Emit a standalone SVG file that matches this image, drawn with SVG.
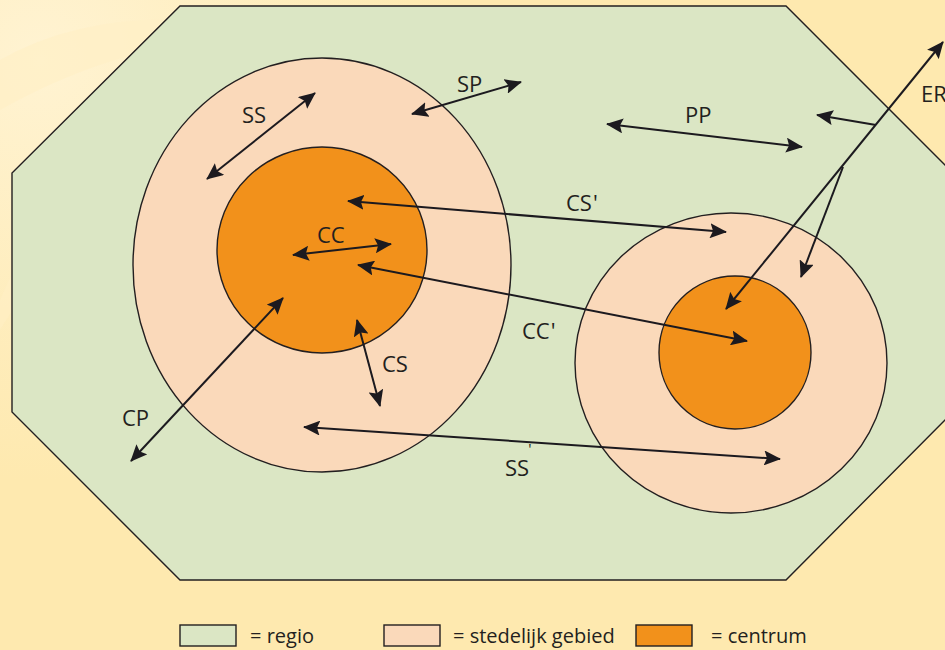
<svg xmlns="http://www.w3.org/2000/svg" width="945" height="650" viewBox="0 0 945 650">
<style>
.lbl{font-family:"Open Sans","Noto Sans","Liberation Sans",sans-serif;font-size:22px;fill:#231f20}
.leg{font-family:"Open Sans","Noto Sans","Liberation Sans",sans-serif;font-size:20px;fill:#231f20}
.edge{stroke:#1c1a1f;stroke-width:2;fill:none}
.shape{stroke:#231f20;stroke-width:1.4}
.regio{fill:#dbe6c4}
.sted{fill:#fad9ba}
.cent{fill:#f2911b}
</style>
<defs>
<marker id="ah" markerUnits="userSpaceOnUse" markerWidth="17" markerHeight="15" refX="16" refY="7.5" orient="auto-start-reverse">
<path d="M0,0 L17,7.5 L0,15 L3,7.5 z" fill="#1c1a1f"/>
</marker>
<radialGradient id="bg" cx="0" cy="0" r="1" gradientUnits="userSpaceOnUse" gradientTransform="translate(40 60) scale(420 420)">
<stop offset="0" stop-color="#fff3d2"/>
<stop offset="1" stop-color="#fee9af"/>
</radialGradient>
</defs>
<rect width="945" height="650" fill="#fee9af"/>
<rect width="945" height="650" fill="url(#bg)"/>
<path d="M0,60 Q120,-10 330,40 Q160,20 0,110 z" fill="#fff0c6" opacity="0.7"/>
<path d="M0,300 Q40,200 140,170 Q60,230 0,330 z" fill="#fff0c6" opacity="0.5"/>

<g id="regio">
<polygon class="shape regio" points="180,6 786,6 953,173 953,412 786,580 180,580 12,412 12,173"/>
</g>
<g id="stad1">
<ellipse class="shape sted" cx="322" cy="265" rx="189" ry="207"/>
</g>
<g id="centrum1">
<ellipse class="shape cent" cx="322" cy="250" rx="105" ry="103"/>
</g>
<g id="stad2">
<ellipse class="shape sted" cx="731" cy="363" rx="156" ry="150"/>
</g>
<g id="centrum2">
<ellipse class="shape cent" cx="735" cy="352.5" rx="76" ry="76.5"/>
</g>

<g id="connectors">
<line class="edge" x1="207" y1="179" x2="315" y2="93" marker-start="url(#ah)" marker-end="url(#ah)"/>
<line class="edge" x1="412" y1="114" x2="521" y2="82" marker-start="url(#ah)" marker-end="url(#ah)"/>
<line class="edge" x1="607" y1="124" x2="802" y2="147" marker-start="url(#ah)" marker-end="url(#ah)"/>
<line class="edge" x1="348" y1="201" x2="726" y2="232" marker-start="url(#ah)" marker-end="url(#ah)"/>
<line class="edge" x1="293" y1="255" x2="391" y2="244" marker-start="url(#ah)" marker-end="url(#ah)"/>
<line class="edge" x1="358" y1="265" x2="747" y2="341" marker-start="url(#ah)" marker-end="url(#ah)"/>
<line class="edge" x1="357" y1="320" x2="380" y2="406" marker-start="url(#ah)" marker-end="url(#ah)"/>
<line class="edge" x1="283" y1="298" x2="131" y2="461" marker-start="url(#ah)" marker-end="url(#ah)"/>
<line class="edge" x1="304" y1="427" x2="780" y2="459" marker-start="url(#ah)" marker-end="url(#ah)"/>
<line class="edge" x1="943" y1="42" x2="726" y2="309" marker-start="url(#ah)" marker-end="url(#ah)"/>
<line class="edge" x1="876" y1="125" x2="817" y2="115" marker-end="url(#ah)"/>
<line class="edge" x1="843" y1="167" x2="801" y2="277" marker-end="url(#ah)"/>
</g>

<g id="labels">
<text class="lbl" x="242" y="123">SS</text>
<text class="lbl" x="457" y="92">SP</text>
<text class="lbl" x="685" y="123">PP</text>
<text class="lbl" x="921" y="102">ER</text>
<text class="lbl" x="566" y="211">CS<tspan dx="1">'</tspan></text>
<text class="lbl" x="522" y="339">CC<tspan dx="1">'</tspan></text>
<text class="lbl" x="317" y="243">CC</text>
<text class="lbl" x="382" y="372">CS</text>
<text class="lbl" x="122" y="426">CP</text>
<text class="lbl" x="505" y="476">SS<tspan dx="-1" dy="-22" font-size="15">'</tspan></text>
</g>

<g id="legend-regio">
<rect class="shape regio" x="180" y="625" width="56" height="21"/>
<text class="leg" x="250" y="643">= regio</text>
</g>
<g id="legend-stedelijk">
<rect class="shape sted" x="384" y="625" width="56" height="21"/>
<text class="leg" x="453" y="643">= stedelijk gebied</text>
</g>
<g id="legend-centrum">
<rect class="shape cent" x="636" y="625" width="56" height="21"/>
<text class="leg" x="711" y="643">= centrum</text>
</g>
</svg>
